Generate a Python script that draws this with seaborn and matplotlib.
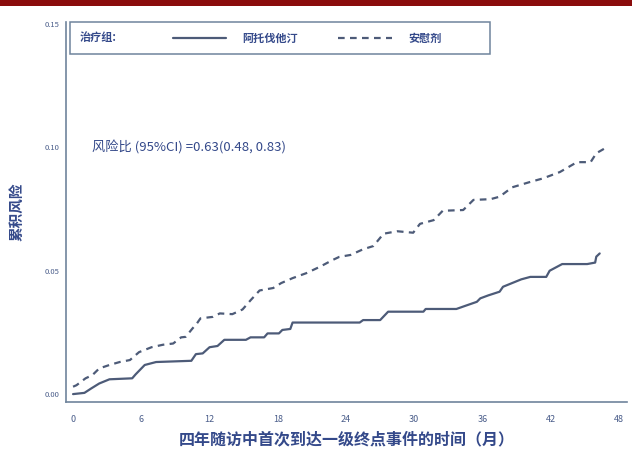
import matplotlib
import matplotlib.pyplot as plt
import pandas as pd
import seaborn as sns
from matplotlib.patches import Rectangle

matplotlib.use("Agg")

groups = ["阿托伐他汀", "安慰剂"]

atorva_months = [0, 1.0, 1.6, 2.3, 3.2, 5.2, 5.5, 6.3, 7.3, 10.4, 10.8, 11.4, 12.0, 12.7, 13.3,
                 15.2, 15.6, 16.8, 17.1, 18.1, 18.4, 19.1, 19.3, 25.2, 25.5, 27.0, 27.7, 30.8,
                 31.0, 33.7, 34.5, 35.5, 35.8, 36.5, 37.5, 37.8, 38.6, 39.4, 40.2, 41.6, 41.9,
                 43.0, 45.2, 45.9, 46.0, 46.3]
atorva_risk = [0.000, 0.0005, 0.0023, 0.0043, 0.0060, 0.0064, 0.0080, 0.0118, 0.0130, 0.0135,
               0.0162, 0.0165, 0.0190, 0.0195, 0.0220, 0.0220, 0.0230, 0.0230, 0.0246, 0.0246,
               0.0260, 0.0264, 0.0290, 0.0290, 0.0300, 0.0300, 0.0334, 0.0334, 0.0345, 0.0345,
               0.0358, 0.0374, 0.0388, 0.0400, 0.0415, 0.0435, 0.0450, 0.0465, 0.0475, 0.0475,
               0.0500, 0.0527, 0.0527, 0.0533, 0.0557, 0.0570]

placebo_months = [0, 0.3, 1.1, 1.7, 2.3, 3.2, 4.1, 5.0, 5.8, 6.9, 7.9, 8.8, 9.5, 9.9, 10.5,
                  10.9, 11.2, 12.3, 12.9, 14.0, 14.9, 15.6, 16.4, 17.6, 18.3, 19.3, 20.5, 21.7,
                  22.8, 23.4, 24.4, 25.5, 26.4, 27.3, 28.5, 29.9, 30.5, 31.7, 32.5, 34.3, 35.2,
                  36.7, 37.5, 38.6, 40.2, 41.3, 42.8, 44.3, 45.5, 46.0, 46.9]
placebo_risk = [0.0030, 0.0036, 0.0064, 0.0077, 0.0104, 0.0118, 0.0130, 0.0138, 0.0170, 0.0190,
                0.0200, 0.0205, 0.0230, 0.0232, 0.0266, 0.0287, 0.0307, 0.0313, 0.0327, 0.0324,
                0.0343, 0.0380, 0.0420, 0.0430, 0.0450, 0.0470, 0.0490, 0.0516, 0.0543, 0.0556,
                0.0564, 0.0587, 0.0600, 0.0650, 0.0660, 0.0654, 0.0690, 0.0705, 0.0743, 0.0746,
                0.0787, 0.0790, 0.0800, 0.0838, 0.0860, 0.0874, 0.0900, 0.0940, 0.0940, 0.0976,
                0.1000]

x_ticks = [0, 6, 12, 18, 24, 30, 36, 42, 48]
y_ticks = [0.00, 0.05, 0.10, 0.15]

df = pd.concat(
    [
        pd.DataFrame({"month": atorva_months, "risk": atorva_risk, "group": groups[0]}),
        pd.DataFrame({"month": placebo_months, "risk": placebo_risk, "group": groups[1]}),
    ],
    ignore_index=True,
)

sns.set_style("white")
plt.rcParams["font.family"] = ["Noto Sans CJK SC", "DejaVu Sans"]

line_color = "#4d5b78"
text_color = "#34498a"
spine_color = "#6f849c"

fig = plt.figure(figsize=(6.32, 4.58), dpi=100)
ax = fig.add_axes([66 / 632, 56 / 458, 561 / 632, 380 / 458])

sns.lineplot(
    data=df, x="month", y="risk", hue="group", style="group",
    palette={g: line_color for g in groups},
    dashes={groups[0]: "", groups[1]: (3.0, 2.4)},
    estimator=None, linewidth=1.6, ax=ax,
)

ax.set_xlim(-0.62, 48.7)
ax.set_ylim(-0.0032, 0.1508)
ax.set_xticks(x_ticks)
ax.set_yticks(y_ticks)
ax.set_yticklabels([f"{v:.2f}" for v in y_ticks])
for side in ("top", "right"):
    ax.spines[side].set_visible(False)
for side in ("left", "bottom"):
    ax.spines[side].set_color(spine_color)
    ax.spines[side].set_linewidth(1.2)
ax.tick_params(axis="x", direction="out", length=6, width=1, color=spine_color,
               labelsize=6.5, labelcolor="#4a5d8a", pad=3)
ax.tick_params(axis="y", direction="out", length=3, width=1, color=spine_color,
               labelsize=5.5, labelcolor="#4a5d8a", pad=2)

ax.set_xlabel("四年随访中首次到达一级终点事件的时间（月）", fontsize=11.5,
              fontweight="bold", color=text_color, labelpad=6)
ax.set_ylabel("累积风险", fontsize=10.5, fontweight="bold", color=text_color, labelpad=14)

ax.text(1.67, 0.10, "风险比 (95%CI) =0.63(0.48, 0.83)", fontsize=9.5,
        color=text_color, va="center", ha="left")

# legend frame with group caption
ax.add_patch(Rectangle((0.007, 0.916), 0.749, 0.084, transform=ax.transAxes,
                       fill=False, edgecolor=spine_color, linewidth=1.1, clip_on=False))
ax.text(0.025, 0.958, "治疗组:", transform=ax.transAxes, fontsize=8,
        fontweight="bold", color=text_color, va="center", ha="left")
handles, labels = ax.get_legend_handles_labels()
leg = ax.legend(handles, labels, ncol=2, loc="center left",
                bbox_to_anchor=(0.19, 0.958), frameon=False,
                prop={"size": 8, "weight": "bold"},
                handlelength=4.8, handletextpad=1.5, columnspacing=3.6,
                borderpad=0, borderaxespad=0)
for t in leg.get_texts():
    t.set_color(text_color)

# dark red header bar
fig.add_artist(Rectangle((0, 1 - 6 / 458), 1, 6 / 458, transform=fig.transFigure,
                         color="#8a0c0c", linewidth=0))

fig.savefig("out.png", dpi=100)
plt.close(fig)
